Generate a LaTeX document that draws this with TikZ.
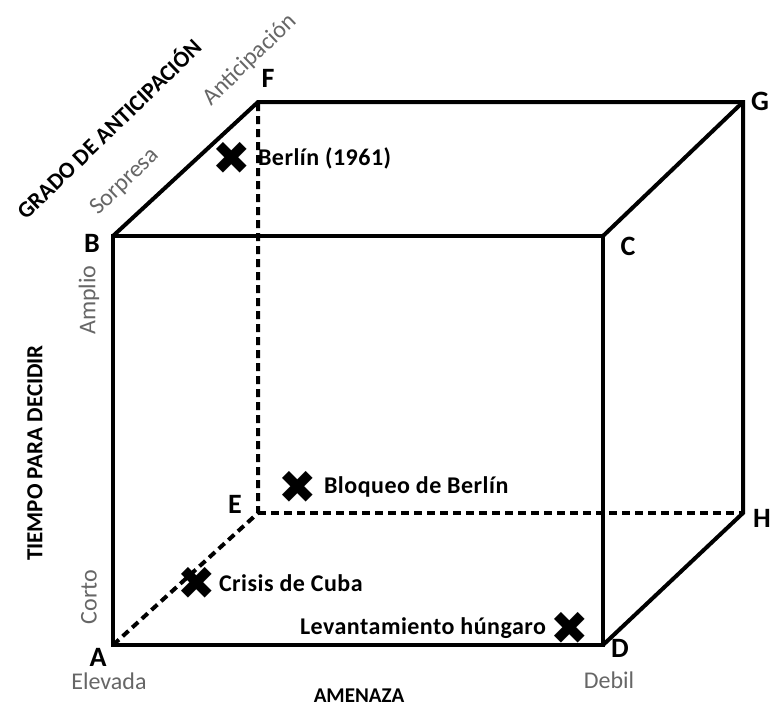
\documentclass[tikz,border=0pt]{standalone}
\usepackage{fontspec}
\setmainfont{Carlito}
\newfontfamily\symfont{DejaVu Sans}
\usetikzlibrary{positioning}
\tikzset{
  edge/.style={line width=2pt},
  hidden/.style={line width=2pt,dash pattern=on 4pt off 2.5pt},
  corner/.style={font=\bfseries\fontsize{14}{16}\selectfont},
  axislbl/.style={font=\bfseries\fontsize{11.5}{13}\selectfont},
  endlbl/.style={text=black!60,font=\fontsize{12}{14}\selectfont},
  xmark/.style={inner sep=0pt,font=\symfont\fontsize{23}{23}\selectfont},
  event/.style={font=\bfseries\fontsize{12}{14}\selectfont\addfontfeature{LetterSpace=2},inner sep=1pt}
}
\begin{document}
\begin{tikzpicture}[x=0.5pt,y=-0.5pt]
  \useasboundingbox (0,0) rectangle (776,708);
  % vertices of the cube
  \coordinate (A) at (113,645);
  \coordinate (B) at (113,236);
  \coordinate (C) at (603,236);
  \coordinate (D) at (603,645);
  \coordinate (E) at (258,513);
  \coordinate (F) at (258,102);
  \coordinate (G) at (743,102);
  \coordinate (H) at (743,513);
  % hidden edges
  \draw[hidden] (A) -- (E) -- (F);
  \draw[hidden] (E) -- (H);
  % visible edges
  \draw[edge] (A) -- (B) -- (C) -- (D) -- cycle;
  \draw[edge] (B) -- (F) -- (G) -- (H) -- (D);
  \draw[edge] (C) -- (G);
  % corner letters
  \node[corner] (lA) at (98,657) {A};
  \node[corner] (lB) at (92,243) {B};
  \node[corner] (lC) at (628,246) {C};
  \node[corner] (lD) at (620,648) {D};
  \node[corner] (lE) at (235,504) {E};
  \node[corner] (lF) at (268,78) {F};
  \node[corner] (lG) at (760,101) {G};
  \node[corner] (lH) at (762,518) {H};
  % axes
  \node[endlbl] (elev) at (109,681) {Elevada};
  \node[endlbl] (debil) at (609,680) {Debil};
  \node[axislbl,font=\bfseries\fontsize{10.5}{12}\selectfont] (amen) at (359,696) {AMENAZA};
  \node[endlbl,rotate=90] (corto) at (89,597) {Corto};
  \node[endlbl,rotate=90] (amplio) at (89,300) {Amplio};
  \node[axislbl,rotate=90] (tiempo) at (35,453) {TIEMPO PARA DECIDIR};
  \node[endlbl,rotate=44] (sorp) at (125,182) {Sorpresa};
  \node[endlbl,rotate=44] (antic) at (250,60) {Anticipación};
  \node[axislbl,rotate=44] (grado) at (108,128) {GRADO DE ANTICIPACIÓN};
  % events
  \node[xmark] (m1) at (232,158) {✖};
  \node[event,right=2pt of m1] (t1) {Berlín (1961)};
  \node[xmark] (m2) at (298,487) {✖};
  \node[event,right=2pt of m2] (t2) {Bloqueo de Berlín};
  \node[xmark] (m3) at (197,583) {✖};
  \node[event,right=0pt of m3] (t3) {Crisis de Cuba};
  \node[xmark] (m4) at (570,628) {✖};
  \node[event,left=1pt of m4] (t4) {Levantamiento húngaro};
\end{tikzpicture}
\end{document}
